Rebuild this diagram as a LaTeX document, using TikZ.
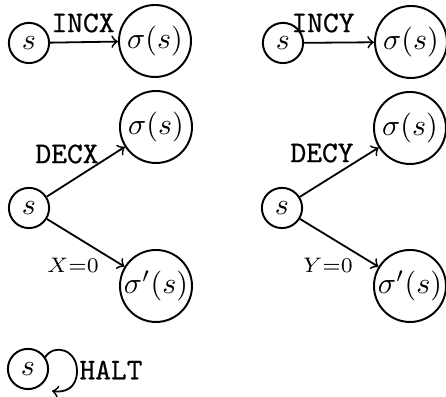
\documentclass[tikz,border=0pt]{standalone}
\usepackage{fontspec}
\setmonofont{Latin Modern Mono}[FakeBold=0.6]
\usetikzlibrary{arrows}
\begin{document}
\begin{tikzpicture}[x=0.3333pt,y=-0.3333pt,
  small/.style={draw,circle,line width=0.65pt,minimum size=13.4pt,inner sep=0pt},
  big/.style={draw,circle,line width=0.65pt,minimum size=24pt,inner sep=0pt},
  edge/.style={->,>=to,line width=0.6pt},
  cmd/.style={font=\ttfamily,inner sep=0pt},
  cond/.style={font=\scriptsize,inner sep=0pt}]
\useasboundingbox (0,0) rectangle (446,397);

% INCX
\node[small] (s1) at (29,43) {$s$};
\node[big] (t1) at (155,41) {$\sigma(s)$};
\draw[edge] (s1) -- (t1);
\node[cmd] (l1) at (83,23) {INCX};

% INCY
\node[small] (s2) at (283,43) {$s$};
\node[big] (t2) at (411,42) {$\sigma(s)$};
\draw[edge] (s2) -- (t2);
\node[cmd] (l2) at (323,23) {INCY};

% DECX
\node[small] (s3) at (29,208) {$s$};
\node[big] (u3) at (156,127) {$\sigma(s)$};
\node[big] (d3) at (156,286) {$\sigma'(s)$};
\draw[edge] (s3) -- (u3);
\draw[edge] (s3) -- (d3);
\node[cmd] (l3) at (67,154) {DECX};
\node[cond] (c3) at (73,265) {$X{=}0$};

% DECY
\node[small] (s4) at (282,208) {$s$};
\node[big] (u4) at (410,128) {$\sigma(s)$};
\node[big] (d4) at (410,286) {$\sigma'(s)$};
\draw[edge] (s4) -- (u4);
\draw[edge] (s4) -- (d4);
\node[cmd] (l4) at (322,153) {DECY};
\node[cond] (c4) at (328,265) {$Y{=}0$};

% HALT
\node[small] (s5) at (28,369) {$s$};
\coordinate (e5) at (52,391);
\draw[edge] (s5.35) .. controls (55,343) and (77,350) .. (77,371)
  .. controls (77,388) and (65,393) .. (e5);
\node[cmd] (l5) at (111,370) {HALT};
\end{tikzpicture}
\end{document}
